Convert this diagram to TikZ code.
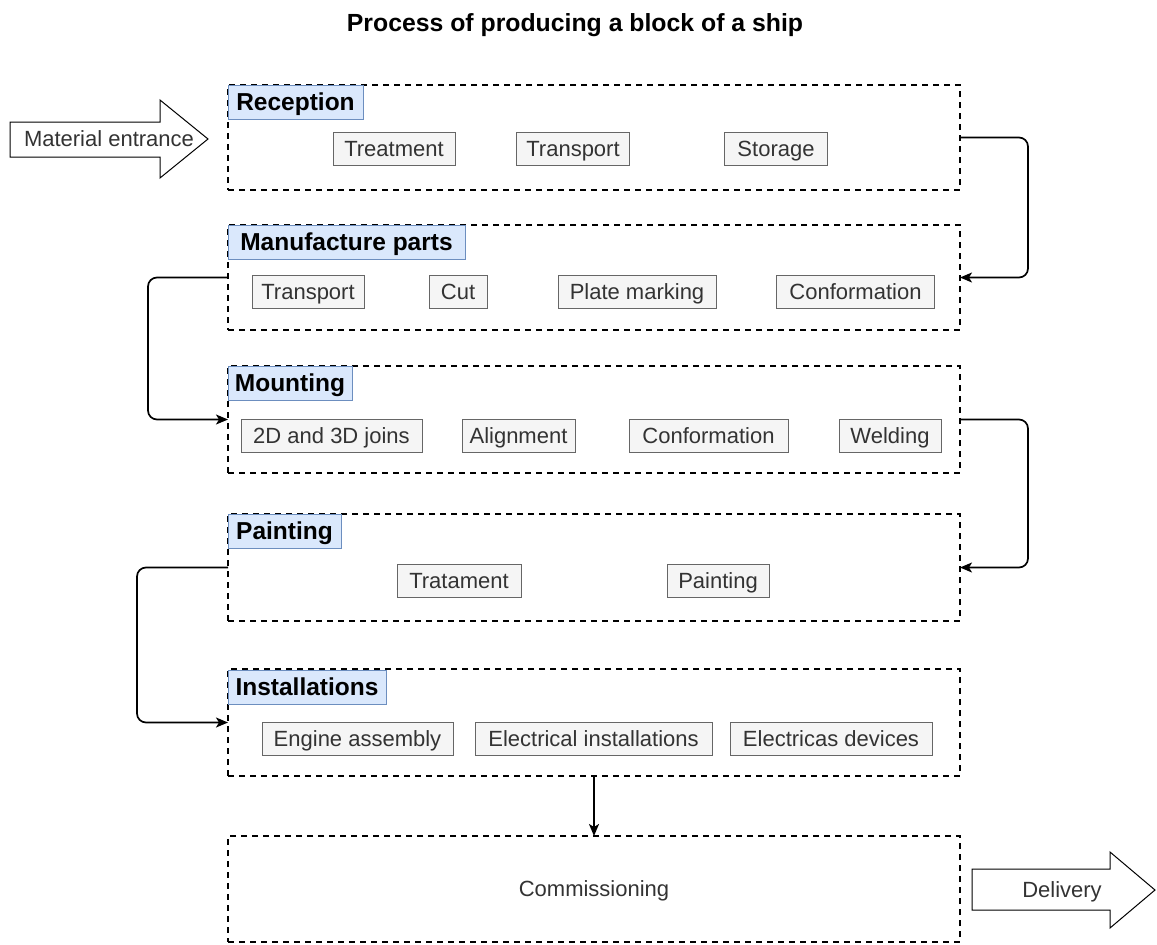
\documentclass[tikz,border=0pt]{standalone}
\usepackage{fontspec}
\setmainfont{Liberation Sans}
\usetikzlibrary{arrows.meta}
\definecolor{hdrfill}{HTML}{DAE8FC}
\definecolor{hdrdraw}{HTML}{6C8EBF}
\definecolor{itemfill}{HTML}{F5F5F5}
\definecolor{itemdraw}{HTML}{666666}
\definecolor{itemtext}{HTML}{333333}
\begin{document}
\begin{tikzpicture}[x=1pt,y=-1pt,
  stage/.style={draw=black, line width=1.8pt, dash pattern=on 6pt off 5pt, inner sep=0pt, outer sep=0pt},
  hdr/.style={draw=hdrdraw, fill=hdrfill, line width=1pt, inner sep=0pt, outer sep=0pt, anchor=north west,
    font=\fontsize{24.5}{29}\selectfont\bfseries, text=black, minimum height=34pt,
    text height=17.5pt, text depth=0.5pt},
  item/.style={draw=itemdraw, fill=itemfill, line width=1pt, text=itemtext, inner sep=0pt,
    minimum height=33pt, font=\fontsize{22}{26}\selectfont, text height=16pt, text depth=0.5pt},
  flow/.style={line width=1.7pt, rounded corners=9pt, -{Stealth[length=12pt,width=10pt,inset=3pt]}},
  bigarrow/.style={draw=black, line width=1pt, fill=white, line join=miter},
  lbl/.style={font=\fontsize{22}{26}\selectfont, text=itemtext, inner sep=0pt, text height=16pt, text depth=0.5pt}]
\useasboundingbox (0,0) rectangle (1157,945);

% title
\node[font=\fontsize{24.8}{29}\selectfont\bfseries, anchor=base, inner sep=0pt] (title) at (575,31)
  {Process of producing a block of a ship};

% stages (dashed containers)
\node[stage, minimum width=732pt, minimum height=105pt] (s1) at (594,137.5) {};
\node[stage, minimum width=732pt, minimum height=105pt] (s2) at (594,277.5) {};
\node[stage, minimum width=732pt, minimum height=107pt] (s3) at (594,419.5) {};
\node[stage, minimum width=732pt, minimum height=107pt] (s4) at (594,567.5) {};
\node[stage, minimum width=732pt, minimum height=107pt] (s5) at (594,722.5) {};
\node[stage, minimum width=732pt, minimum height=106pt, lbl] (s6) at (594,889) {Commissioning};

% headers
\node[hdr, minimum width=135pt] (h1) at (228,85) {Reception};
\node[hdr, minimum width=237pt] (h2) at (228,225) {Manufacture parts};
\node[hdr, minimum width=124pt] (h3) at (228,366) {Mounting};
\node[hdr, minimum width=113pt] (h4) at (228,514) {Painting};
\node[hdr, minimum width=158pt] (h5) at (228,670) {Installations};

% Reception items
\node[item, minimum width=122pt] (r1) at (394,149) {Treatment};
\node[item, minimum width=113pt] (r2) at (573,149) {Transport};
\node[item, minimum width=103pt] (r3) at (776,149) {Storage};

% Manufacture parts items
\node[item, minimum width=112pt] (m1) at (308,292) {Transport};
\node[item, minimum width=58pt] (m2) at (458,292) {Cut};
\node[item, minimum width=158pt] (m3) at (637,292) {Plate marking};
\node[item, minimum width=158pt] (m4) at (855.5,292) {Conformation};

% Mounting items
\node[item, minimum width=181pt] (u1) at (331.5,436) {2D and 3D joins};
\node[item, minimum width=113pt] (u2) at (518.5,436) {Alignment};
\node[item, minimum width=159pt] (u3) at (708.5,436) {Conformation};
\node[item, minimum width=102pt] (u4) at (890,436) {Welding};

% Painting items
\node[item, minimum width=124pt] (p1) at (459,581) {Tratament};
\node[item, minimum width=102pt] (p2) at (718,581) {Painting};

% Installations items
\node[item, minimum width=191pt] (i1) at (357.5,738.5) {Engine assembly};
\node[item, minimum width=237pt] (i2) at (593.5,738.5) {Electrical installations};
\node[item, minimum width=202pt] (i3) at (831,738.5) {Electricas devices};

% big arrows
\draw[bigarrow] (10,122) -- (160,122) -- (160,100) -- (208,139) -- (160,178) -- (160,157) -- (10,157) -- cycle;
\node[lbl] (mat) at (109,139) {Material entrance};
\draw[bigarrow] (972,869) -- (1110,869) -- (1110,852) -- (1155,890) -- (1110,928) -- (1110,910) -- (972,910) -- cycle;
\node[lbl] (del) at (1062,890) {Delivery};

% flow connectors
\draw[flow] (s1.east) -- ++(68,0) |- (s2.east);
\draw[flow] (s2.west) -- ++(-80,0) |- (s3.west);
\draw[flow] (s3.east) -- ++(68,0) |- (s4.east);
\draw[flow] (s4.west) -- ++(-91,0) |- (s5.west);
\draw[flow] (s5.south) -- (s6.north);
\end{tikzpicture}
\end{document}
